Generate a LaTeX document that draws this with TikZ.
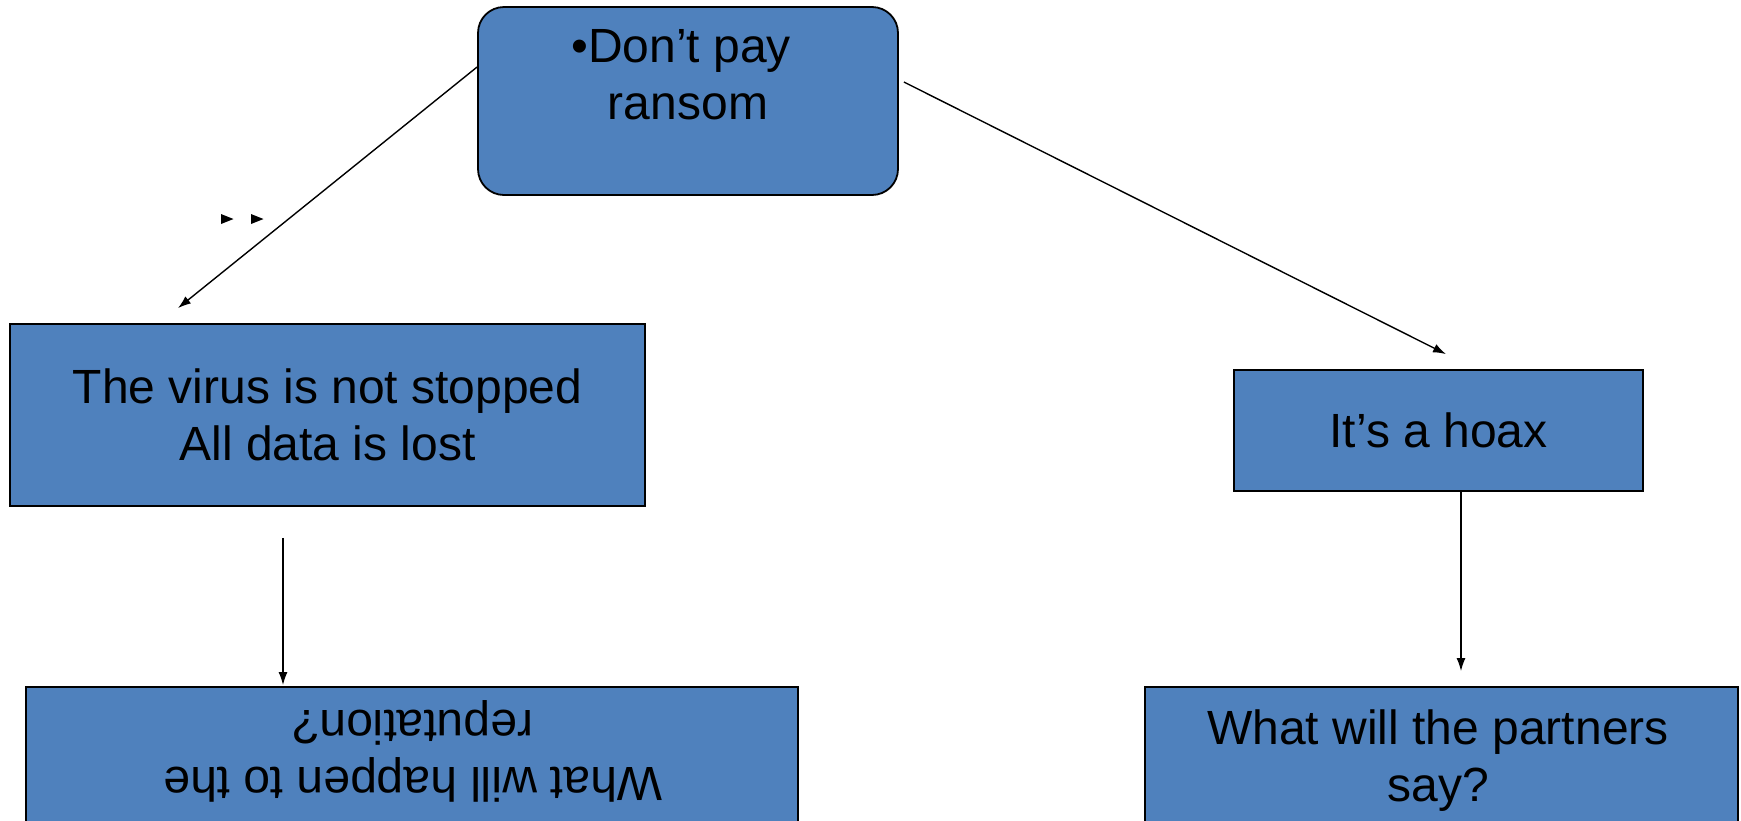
\documentclass[tikz,border=0pt]{standalone}
\usepackage{fontspec}
\setmainfont{Liberation Sans}
\usetikzlibrary{arrows.meta}
\definecolor{boxblue}{HTML}{4F81BD}

\begin{document}
\begin{tikzpicture}[x=1pt, y=-1pt, >={Latex[length=13pt,width=9pt]},
    every node/.style={font=\fontsize{48}{57}\selectfont, inner sep=0pt, align=center},
    bluebox/.style={draw=black, line width=1.8pt, fill=boxblue},
    arr/.style={->, line width=1.4pt}]
    \clip (0,0) rectangle (1741,820);
    \fill[white] (0,0) rectangle (1741,820);

    \node[bluebox, rounded corners=26pt, minimum width=420pt, minimum height=188pt] (pay) at (688,101) {};
    \node[anchor=north] (paytext) at ([yshift=-23pt]pay.north) {•Don’t pay\hspace*{0.28em}\\ransom};

    \node[bluebox, minimum width=635pt, minimum height=182pt] (stopped) at (327.5,415) {The virus is not stopped\\All data is lost};
    \node[bluebox, minimum width=409pt, minimum height=121pt] (hoax) at (1438.5,430.5) {It’s a hoax};

    \node[bluebox, minimum width=772pt, minimum height=153pt] (repbox) at (412,763.5) {};
    \node[rotate=180] (reptext) at (413,751) {What will happen to the\\reputation?};
    \node[bluebox, minimum width=593pt, minimum height=153pt] (partbox) at (1441.5,763.5) {};
    \node (partext) at (1438,761) {What will the partners\\say?};

    \draw[arr] ([yshift=34pt]pay.west) -- ([xshift=-149.5pt,yshift=15pt]stopped.north);
    \draw[arr] ([xshift=5pt,yshift=19pt]pay.east) -- ([xshift=7.5pt,yshift=15pt]hoax.north);
    \draw[arr] ([xshift=-44.5pt,yshift=-31pt]stopped.south) -- ([xshift=-129pt,yshift=1pt]repbox.north);
    \draw[arr] ([xshift=22.5pt]hoax.south) -- ([xshift=19.5pt,yshift=15pt]partbox.north);

    \foreach \x in {221,251}
        \fill (\x,214) -- ++(12.5,5) -- ++(-12.5,5) -- cycle;
\end{tikzpicture}
\end{document}
